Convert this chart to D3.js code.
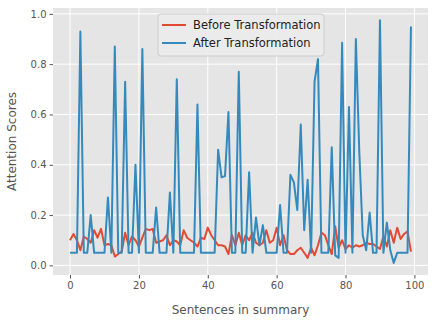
<!DOCTYPE html>
<html>
<head>
<meta charset="utf-8">
<script src="https://cdn.jsdelivr.net/npm/d3@7"></script>
<style>
  html, body { margin: 0; padding: 0; background: #fff; }
  svg { display: block; font-family: "DejaVu Sans", sans-serif; }
</style>
</head>
<body>
<div id="chart"></div>
<script>
// Attention scores per sentence
const beforeScores = [
  0.10, 0.125, 0.10, 0.06, 0.115, 0.105, 0.09, 0.14, 0.11, 0.145,
  0.08, 0.085, 0.08, 0.035, 0.045, 0.055, 0.13, 0.08, 0.115, 0.10,
  0.075, 0.11, 0.145, 0.14, 0.145, 0.09, 0.095, 0.10, 0.12, 0.08,
  0.10, 0.095, 0.08, 0.14, 0.11, 0.10, 0.09, 0.075, 0.11, 0.105,
  0.15, 0.12, 0.10, 0.08, 0.08, 0.075, 0.045, 0.12, 0.08, 0.13,
  0.08, 0.12, 0.10, 0.13, 0.09, 0.08, 0.09, 0.14, 0.09, 0.10,
  0.15, 0.08, 0.12, 0.06, 0.045, 0.045, 0.06, 0.07, 0.05, 0.03,
  0.07, 0.04, 0.08, 0.13, 0.12, 0.08, 0.045, 0.155, 0.07, 0.10,
  0.065, 0.08, 0.07, 0.08, 0.075, 0.08, 0.09, 0.085, 0.085, 0.075,
  0.065, 0.115, 0.075, 0.14, 0.09, 0.15, 0.105, 0.125, 0.135, 0.055
];
const afterScores = [
  0.05, 0.05, 0.05, 0.93, 0.05, 0.05, 0.20, 0.05, 0.05, 0.05,
  0.05, 0.27, 0.05, 0.87, 0.05, 0.05, 0.73, 0.05, 0.05, 0.40,
  0.05, 0.86, 0.05, 0.05, 0.05, 0.23, 0.05, 0.05, 0.05, 0.29,
  0.05, 0.74, 0.05, 0.05, 0.05, 0.05, 0.05, 0.64, 0.05, 0.05,
  0.05, 0.05, 0.05, 0.46, 0.35, 0.355, 0.61, 0.05, 0.05, 0.77,
  0.05, 0.05, 0.37, 0.05, 0.19, 0.08, 0.16, 0.05, 0.05, 0.05,
  0.05, 0.24, 0.05, 0.05, 0.36, 0.33, 0.22, 0.56, 0.14, 0.34,
  0.05, 0.73, 0.82, 0.05, 0.05, 0.05, 0.47, 0.04, 0.03, 0.885,
  0.05, 0.63, 0.05, 0.90, 0.45, 0.12, 0.06, 0.21, 0.05, 0.05,
  0.975, 0.05, 0.17, 0.06, 0.01, 0.05, 0.05, 0.05, 0.05, 0.95
];
const seriesNames = ['Before Transformation', 'After Transformation'];
const seriesColors = ['#E24A33', '#348ABD'];
const xTicks = [0, 20, 40, 60, 80, 100];
const yTicks = [0.0, 0.2, 0.4, 0.6, 0.8, 1.0];

const width = 436, height = 326;
const margin = { left: 53, right: 8, top: 8, bottom: 51 };

const svg = d3.select('#chart').append('svg')
  .attr('width', width)
  .attr('height', height);

// matplotlib style 5% padding around the data
const n = afterScores.length;
const xPad = (n - 1) * 0.05;
const allVals = beforeScores.concat(afterScores);
const yMin = d3.min(allVals), yMax = d3.max(allVals);
const yPad = (yMax - yMin) * 0.05;

const x = d3.scaleLinear()
  .domain([-xPad, n - 1 + xPad])
  .range([margin.left, width - margin.right]);
const y = d3.scaleLinear()
  .domain([yMin - yPad, yMax + yPad])
  .range([height - margin.bottom, margin.top]);

// panel background
svg.append('rect')
  .attr('x', margin.left)
  .attr('y', margin.top)
  .attr('width', width - margin.left - margin.right)
  .attr('height', height - margin.top - margin.bottom)
  .attr('fill', '#E5E5E5');

// white grid
const grid = svg.append('g').attr('stroke', '#fff').attr('stroke-width', 1);
grid.selectAll('.gx').data(xTicks).join('line')
  .attr('x1', d => x(d)).attr('x2', d => x(d))
  .attr('y1', margin.top).attr('y2', height - margin.bottom);
grid.selectAll('.gy').data(yTicks).join('line')
  .attr('x1', margin.left).attr('x2', width - margin.right)
  .attr('y1', d => y(d)).attr('y2', d => y(d));

// axes
const xAxis = svg.append('g')
  .attr('transform', `translate(0,${height - margin.bottom})`)
  .call(d3.axisBottom(x).tickValues(xTicks).tickSize(3.5).tickPadding(3).tickFormat(d3.format('d')));
const yAxis = svg.append('g')
  .attr('transform', `translate(${margin.left},0)`)
  .call(d3.axisLeft(y).tickValues(yTicks).tickSize(3.5).tickPadding(3).tickFormat(d3.format('.1f')));

[xAxis, yAxis].forEach(a => {
  a.select('.domain').remove();
  a.selectAll('.tick line').attr('stroke', '#555');
  a.selectAll('.tick text')
    .attr('fill', '#555')
    .attr('font-size', 10)
    .attr('font-family', '"DejaVu Sans", sans-serif');
});

// lines
const line = d3.line()
  .x((d, i) => x(i))
  .y(d => y(d));

[beforeScores, afterScores].forEach((vals, k) => {
  svg.append('path')
    .datum(vals)
    .attr('fill', 'none')
    .attr('stroke', seriesColors[k])
    .attr('stroke-width', 2)
    .attr('stroke-linejoin', 'round')
    .attr('d', line);
});

// axis labels
svg.append('text')
  .attr('x', (margin.left + width - margin.right) / 2)
  .attr('y', height - 12)
  .attr('text-anchor', 'middle')
  .attr('font-size', 12)
  .attr('fill', '#555')
  .text('Sentences in summary');

svg.append('text')
  .attr('transform', `translate(16,${(margin.top + height - margin.bottom) / 2}) rotate(-90)`)
  .attr('text-anchor', 'middle')
  .attr('font-size', 12)
  .attr('fill', '#555')
  .text('Attention Scores');

// legend
const legend = svg.append('g').attr('transform', 'translate(158,14)');
legend.append('rect')
  .attr('width', 166)
  .attr('height', 42)
  .attr('rx', 3)
  .attr('fill', '#ebebeb')
  .attr('fill-opacity', 0.9)
  .attr('stroke', '#cccccc')
  .attr('stroke-width', 1);

seriesNames.forEach((name, k) => {
  const row = legend.append('g').attr('transform', `translate(0,${11 + k * 18})`);
  row.append('line')
    .attr('x1', 4).attr('x2', 28)
    .attr('stroke', seriesColors[k])
    .attr('stroke-width', 2);
  row.append('text')
    .attr('x', 35)
    .attr('dy', '0.35em')
    .attr('font-size', 11.5)
    .attr('fill', '#222')
    .text(name);
});
</script>
</body>
</html>
